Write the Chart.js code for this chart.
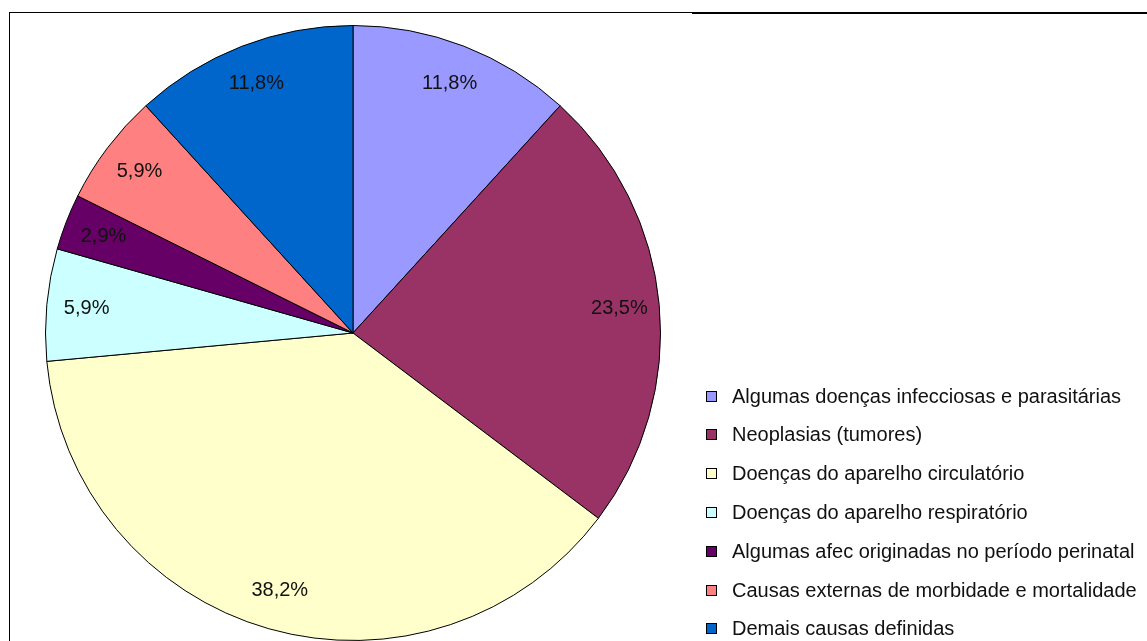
<!DOCTYPE html>
<html lang="pt-BR">
<head>
<meta charset="utf-8">
<title>Óbitos por grupo de causas</title>
<script src="https://cdn.jsdelivr.net/npm/chart.js@4/dist/chart.umd.min.js"></script>
<style>
    html, body { margin: 0; padding: 0; background: #fff; overflow: hidden; }
    #quadro { position: relative; width: 1147px; height: 641px; }
    #grafico { position: absolute; left: 0; top: 0; }
    .linha { position: absolute; background: #000; }
</style>
</head>
<body>
<div id="quadro">
    <canvas id="grafico" width="1147" height="641"></canvas>
    <div class="linha" style="left:9px; top:12px; width:1px; height:629px;"></div>
    <div class="linha" style="left:9px; top:12px; width:683px; height:1px;"></div>
    <div class="linha" style="left:692px; top:12px; width:455px; height:2px;"></div>
</div>
<script>
// causas de óbito (contagens) e rótulos
const causas = [
    'Algumas doenças infecciosas e parasitárias',
    'Neoplasias (tumores)',
    'Doenças do aparelho circulatório',
    'Doenças do aparelho respiratório',
    'Algumas afec originadas no período perinatal',
    'Causas externas de morbidade e mortalidade',
    'Demais causas definidas'
];
const obitos = [4, 8, 13, 2, 1, 2, 4];
const cores = ['#9999FF', '#993366', '#FFFFCC', '#CCFFFF', '#660066', '#FF8080', '#0066CC'];

const fonte = '20px "Liberation Sans", Arial, sans-serif';

function formatarPercentual(valor, total) {
    return (valor / total * 100).toFixed(1).replace('.', ',') + '%';
}

// rótulos de percentual dentro das fatias
const rotulosFatias = {
    id: 'rotulosFatias',
    afterDatasetsDraw(chart) {
        const { ctx } = chart;
        const meta = chart.getDatasetMeta(0);
        const dados = chart.data.datasets[0].data;
        const total = dados.reduce((a, b) => a + b, 0);

        ctx.save();
        ctx.font = fonte;
        ctx.fillStyle = '#111';
        ctx.textAlign = 'center';
        ctx.textBaseline = 'middle';
        meta.data.forEach((arco, i) => {
            const { x, y, startAngle, endAngle, outerRadius } = arco.getProps(['x', 'y', 'startAngle', 'endAngle', 'outerRadius'], true);
            const meio = (startAngle + endAngle) / 2;
            const r = outerRadius * 0.87;
            ctx.fillText(formatarPercentual(dados[i], total), x + Math.cos(meio) * r, y + Math.sin(meio) * r);
        });
        ctx.restore();
    }
};

// legenda à direita, como no original
const legendaLateral = {
    id: 'legendaLateral',
    afterDraw(chart) {
        const { ctx } = chart;
        const caixaX = 706, caixa = 11, textoX = 732;
        const topo = 396, passo = 38.8;

        ctx.save();
        ctx.font = fonte;
        ctx.textAlign = 'left';
        ctx.textBaseline = 'middle';
        chart.data.labels.forEach((rotulo, i) => {
            const cy = topo + i * passo;
            ctx.fillStyle = chart.data.datasets[0].backgroundColor[i];
            ctx.fillRect(caixaX, Math.round(cy - caixa / 2), caixa, caixa);
            ctx.strokeStyle = '#000';
            ctx.lineWidth = 1;
            ctx.strokeRect(caixaX + 0.5, Math.round(cy - caixa / 2) + 0.5, caixa - 1, caixa - 1);
            ctx.fillStyle = '#111';
            ctx.fillText(rotulo, textoX, cy + 1);
        });
        ctx.restore();
    }
};

const ctx = document.getElementById('grafico').getContext('2d');

new Chart(ctx, {
    type: 'pie',
    data: {
        labels: causas,
        datasets: [{
            data: obitos,
            backgroundColor: cores,
            borderColor: '#000',
            borderWidth: 1
        }]
    },
    options: {
        responsive: false,
        animation: false,
        layout: {
            padding: { left: 45, right: 486, top: 25, bottom: 0 }
        },
        plugins: {
            legend: { display: false },
            tooltip: { enabled: false }
        }
    },
    plugins: [rotulosFatias, legendaLateral]
});
</script>
</body>
</html>
